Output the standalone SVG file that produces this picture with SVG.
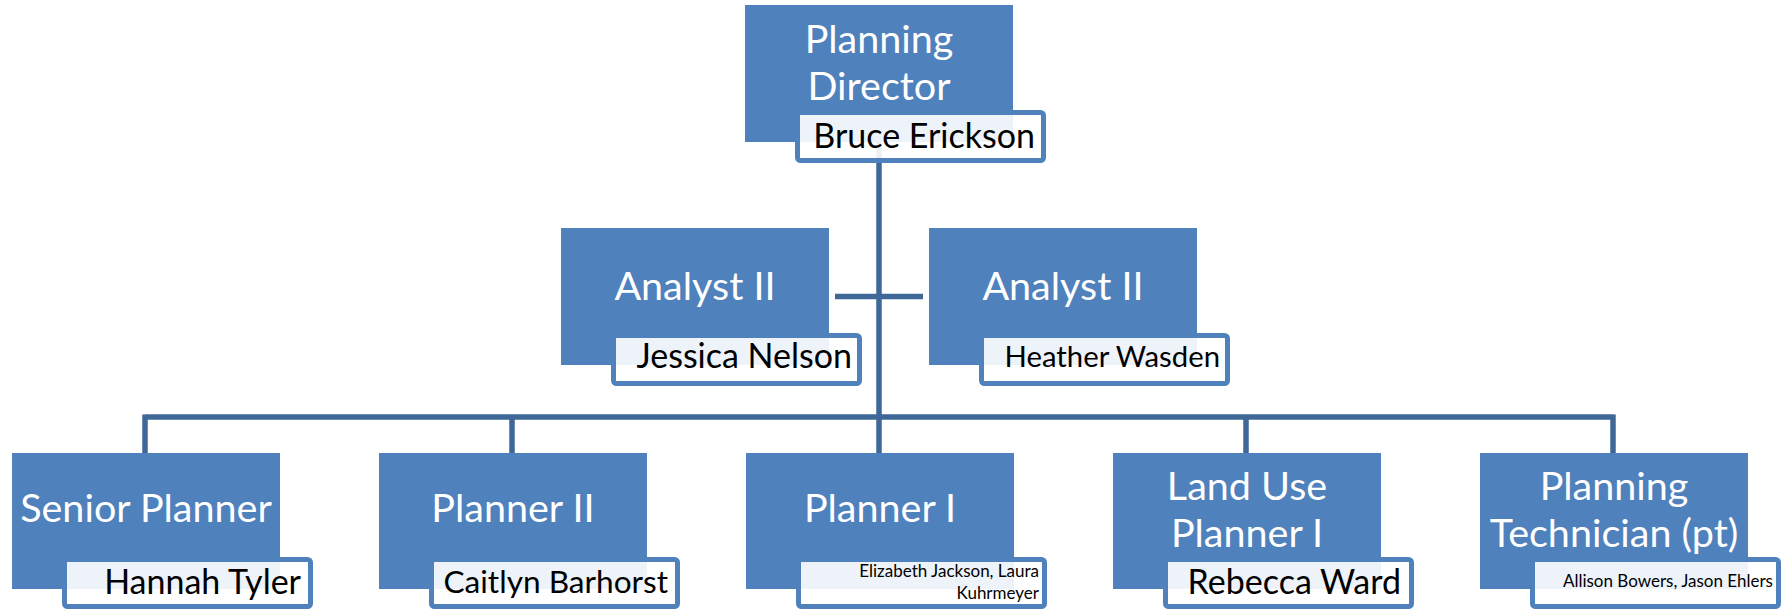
<svg xmlns="http://www.w3.org/2000/svg" width="1788" height="610" viewBox="0 0 1788 610">
<style>
.box{fill:#4f81bd;}
.nm{fill:#ffffff;fill-opacity:0.9;stroke:#4f81bd;stroke-width:5;}
.t{font-family:Lato,"Liberation Sans",sans-serif;font-size:39.5px;fill:#ffffff;text-anchor:middle;}
.n{font-family:Lato,"Liberation Sans",sans-serif;font-size:34px;fill:#000000;text-anchor:end;}
.s{font-family:Lato,"Liberation Sans",sans-serif;font-size:17px;fill:#000000;text-anchor:end;}
.ln{stroke:#3f6898;stroke-width:5.5;fill:none;}
</style>
<rect width="1788" height="610" fill="#ffffff"/>
<g id="connectors">
<path class="ln" d="M879 140 V417 M145 417 H1614 M145 414.5 V454 M512 414.5 V454 M879 414.5 V454 M1246 414.5 V454 M1613 414.5 V454"/>
<path class="ln" d="M835 296.5 H923" stroke-width="5"/>
</g>
<g id="director">
<rect class="box" x="745" y="5" width="268" height="137"/>
<text class="t" x="879" y="53">Planning</text>
<text class="t" x="879" y="100">Director</text>
<rect class="nm" x="797.5" y="112.5" width="246" height="48" rx="3"/>
<text class="n" x="1035" y="148">Bruce Erickson</text>
</g>
<g id="analyst1">
<rect class="box" x="561" y="228" width="268" height="137"/>
<text class="t" x="695" y="300">Analyst II</text>
<rect class="nm" x="613.5" y="335.5" width="246" height="48" rx="3"/>
<text class="n" x="852" y="368">Jessica Nelson</text>
</g>
<g id="analyst2">
<rect class="box" x="929" y="228" width="268" height="137"/>
<text class="t" x="1063" y="300">Analyst II</text>
<rect class="nm" x="981.5" y="335.5" width="246" height="48" rx="3"/>
<text class="n" x="1220" y="367" style="font-size:29.3px">Heather Wasden</text>
</g>
<g id="senior">
<rect class="box" x="12" y="453" width="268" height="136"/>
<text class="t" x="146" y="522">Senior Planner</text>
<rect class="nm" x="64.5" y="559.5" width="246" height="47" rx="3"/>
<text class="n" x="301" y="594">Hannah Tyler</text>
</g>
<g id="planner2">
<rect class="box" x="379" y="453" width="268" height="136"/>
<text class="t" x="513" y="522">Planner II</text>
<rect class="nm" x="431.5" y="559.5" width="246" height="47" rx="3"/>
<text class="n" x="668" y="593" style="font-size:31.6px">Caitlyn Barhorst</text>
</g>
<g id="planner1">
<rect class="box" x="746" y="453" width="268" height="136"/>
<text class="t" x="880" y="522">Planner I</text>
<rect class="nm" x="798.5" y="559.5" width="246" height="47" rx="3"/>
<text class="s" x="1039" y="577">Elizabeth Jackson, Laura</text>
<text class="s" x="1039" y="599">Kuhrmeyer</text>
</g>
<g id="landuse">
<rect class="box" x="1113" y="453" width="268" height="136"/>
<text class="t" x="1247" y="500">Land Use</text>
<text class="t" x="1247" y="547">Planner I</text>
<rect class="nm" x="1165.5" y="559.5" width="246" height="47" rx="3"/>
<text class="n" x="1401" y="594">Rebecca Ward</text>
</g>
<g id="tech">
<rect class="box" x="1480" y="453" width="268" height="136"/>
<text class="t" x="1614" y="500">Planning</text>
<text class="t" x="1614" y="547">Technician (pt)</text>
<rect class="nm" x="1532.5" y="559.5" width="246" height="47" rx="3"/>
<text class="s" x="1773" y="587">Allison Bowers, Jason Ehlers</text>
</g>
</svg>
